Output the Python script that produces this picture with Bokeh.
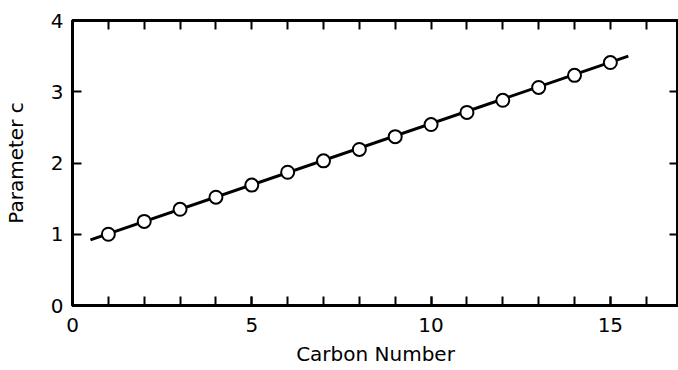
from bokeh.plotting import figure
from bokeh.models import LinearAxis, FixedTicker, Range1d
from bokeh.embed import file_html
from bokeh.resources import INLINE

carbon_number = [1, 2, 3, 4, 5, 6, 7, 8, 9, 10, 11, 12, 13, 14, 15]
parameter_c = [1.00, 1.18, 1.35, 1.52, 1.69, 1.87, 2.03, 2.19, 2.37, 2.54, 2.71, 2.88, 3.06, 3.23, 3.41]
fit_x = [0.5, 15.5]
fit_y = [0.92, 3.50]
x_ticks = [0, 5, 10, 15]
x_minor = list(range(0, 18))
y_ticks = [0, 1, 2, 3, 4]

FONT = "DejaVu Sans"

p = figure(width=678, height=370, output_backend="svg", toolbar_location=None,
           x_range=Range1d(0, 16.9), y_range=Range1d(0, 4),
           x_axis_label="Carbon Number", y_axis_label="Parameter c")
p.min_border_left = 72
p.min_border_right = 0
p.min_border_top = 20
p.min_border_bottom = 65
p.grid.visible = False
p.outline_line_color = "black"
p.outline_line_width = 3
p.background_fill_color = "white"
p.border_fill_color = "white"

p.line(fit_x, fit_y, line_color="black", line_width=3)
p.scatter(carbon_number, parameter_c, size=13, marker="circle",
          fill_color="white", line_color="black", line_width=2)

xa = p.xaxis[0]
xa.ticker = FixedTicker(ticks=x_ticks, minor_ticks=x_minor)
ya = p.yaxis[0]
ya.ticker = FixedTicker(ticks=y_ticks, minor_ticks=[])

for ax in (xa, ya):
    ax.axis_line_width = 3
    ax.major_tick_in = 9
    ax.major_tick_out = 0
    ax.major_tick_line_width = 2
    ax.minor_tick_in = 9
    ax.minor_tick_out = 0
    ax.minor_tick_line_width = 2
    ax.major_label_text_font = FONT
    ax.major_label_text_font_size = "20px"
    ax.major_label_text_color = "black"
    ax.axis_label_text_font = FONT
    ax.axis_label_text_font_size = "20px"
    ax.axis_label_text_font_style = "normal"
    ax.axis_label_text_color = "black"
xa.major_label_standoff = 12
xa.axis_label_standoff = 7
ya.major_label_standoff = 9
ya.axis_label_standoff = 20

top = LinearAxis(ticker=FixedTicker(ticks=x_minor, minor_ticks=[]))
right = LinearAxis(ticker=FixedTicker(ticks=y_ticks, minor_ticks=[]))
top.major_label_overrides = {t: "" for t in x_minor}
right.major_label_overrides = {t: "" for t in y_ticks}
for ax in (top, right):
    ax.axis_line_width = 3
    ax.major_tick_in = 9
    ax.major_tick_out = 0
    ax.major_tick_line_width = 2
    ax.minor_tick_in = 0
    ax.minor_tick_out = 0
    ax.major_label_text_font_size = "1px"
    ax.major_label_standoff = 0
p.add_layout(top, "above")
p.add_layout(right, "right")

open("out.html", "w").write(file_html(p, INLINE))
